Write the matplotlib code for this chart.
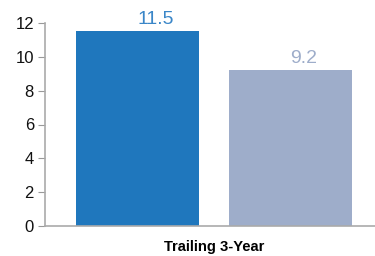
import matplotlib.pyplot as plt

plt.rcParams['font.family'] = ['Liberation Sans', 'DejaVu Sans']

categories = ['Fund', 'Benchmark']
values = [11.5, 9.2]
value_labels = ['11.5', '9.2']
bar_colors = ['#1f77bd', '#9eadca']
label_colors = ['#3a86c8', '#9eadca']
y_ticks = [0, 2, 4, 6, 8, 10, 12]
x_title = 'Trailing 3-Year'

W, H = 375, 256
fig = plt.figure(figsize=(W / 100, H / 100), dpi=100)
ax = fig.add_axes([45 / W, (H - 226) / H, 330 / W, 203 / H])

pos = list(range(len(values)))
ax.bar(pos, values, width=0.8, color=bar_colors)
for x, v, lab, c in zip(pos, values, value_labels, label_colors):
    ax.text(x, v + 0.2, lab, ha='left', va='bottom', color=c, fontsize=14)

ax.set_xlim(-0.605, -0.605 + 330 / 153)
ax.set_ylim(0, 12)
ax.set_yticks(y_ticks)
ax.set_xticks([])
ax.tick_params(axis='y', length=5, color='#999999', labelsize=12, pad=3,
               labelcolor='#111111')
for spine in ('top', 'right'):
    ax.spines[spine].set_visible(False)
for spine in ('left', 'bottom'):
    ax.spines[spine].set_color('#aaaaaa')
    ax.spines[spine].set_linewidth(1.2)

fig.text(214.5 / W, 1 - 247 / H, x_title, ha='center', va='center',
         fontsize=10.6, fontweight='bold')

fig.savefig('out.png', dpi=100)
